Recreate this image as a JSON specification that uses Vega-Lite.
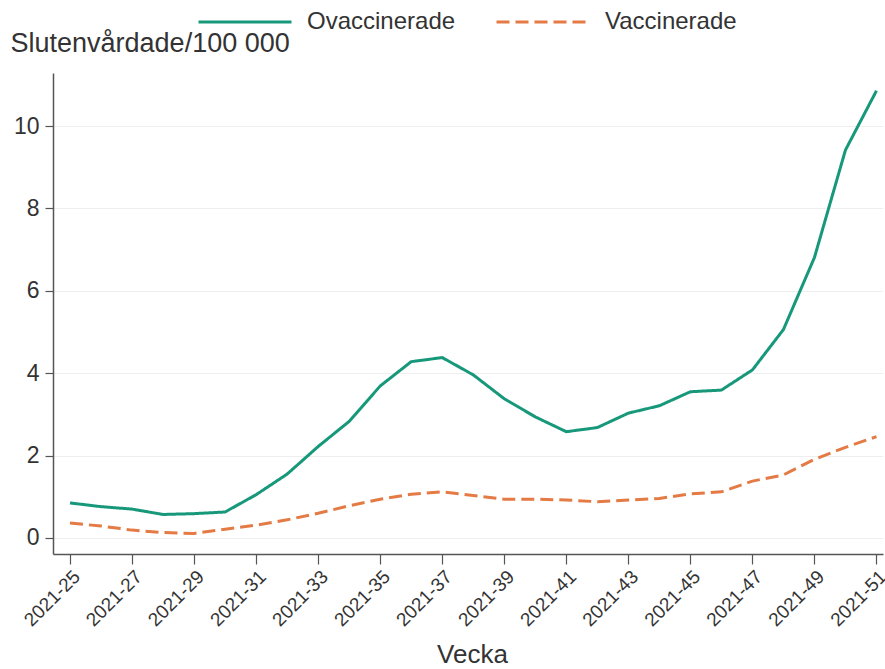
{
  "$schema": "https://vega.github.io/schema/vega-lite/v6.json",
  "autosize": "none",
  "padding": {"left": 53, "top": 73, "right": 2, "bottom": 115},
  "width": 830,
  "height": 481,
  "background": "white",
  "config": {
    "font": "Liberation Sans",
    "view": {"stroke": null},
    "axis": {"labelColor": "#333333", "titleColor": "#333333", "titleFontWeight": "normal", "domainColor": "#555555", "tickColor": "#555555", "domainWidth": 1.5, "tickWidth": 1.2}
  },
  "data": {
    "values": [
      {"vecka": 25, "grupp": "Ovaccinerade", "varde": 0.85},
      {"vecka": 26, "grupp": "Ovaccinerade", "varde": 0.76},
      {"vecka": 27, "grupp": "Ovaccinerade", "varde": 0.70},
      {"vecka": 28, "grupp": "Ovaccinerade", "varde": 0.57},
      {"vecka": 29, "grupp": "Ovaccinerade", "varde": 0.59},
      {"vecka": 30, "grupp": "Ovaccinerade", "varde": 0.63},
      {"vecka": 31, "grupp": "Ovaccinerade", "varde": 1.05},
      {"vecka": 32, "grupp": "Ovaccinerade", "varde": 1.55},
      {"vecka": 33, "grupp": "Ovaccinerade", "varde": 2.22},
      {"vecka": 34, "grupp": "Ovaccinerade", "varde": 2.83},
      {"vecka": 35, "grupp": "Ovaccinerade", "varde": 3.69},
      {"vecka": 36, "grupp": "Ovaccinerade", "varde": 4.28},
      {"vecka": 37, "grupp": "Ovaccinerade", "varde": 4.38},
      {"vecka": 38, "grupp": "Ovaccinerade", "varde": 3.96},
      {"vecka": 39, "grupp": "Ovaccinerade", "varde": 3.38},
      {"vecka": 40, "grupp": "Ovaccinerade", "varde": 2.94},
      {"vecka": 41, "grupp": "Ovaccinerade", "varde": 2.58},
      {"vecka": 42, "grupp": "Ovaccinerade", "varde": 2.68},
      {"vecka": 43, "grupp": "Ovaccinerade", "varde": 3.03},
      {"vecka": 44, "grupp": "Ovaccinerade", "varde": 3.21},
      {"vecka": 45, "grupp": "Ovaccinerade", "varde": 3.55},
      {"vecka": 46, "grupp": "Ovaccinerade", "varde": 3.59},
      {"vecka": 47, "grupp": "Ovaccinerade", "varde": 4.08},
      {"vecka": 48, "grupp": "Ovaccinerade", "varde": 5.06},
      {"vecka": 49, "grupp": "Ovaccinerade", "varde": 6.81},
      {"vecka": 50, "grupp": "Ovaccinerade", "varde": 9.42},
      {"vecka": 51, "grupp": "Ovaccinerade", "varde": 10.86},
      {"vecka": 25, "grupp": "Vaccinerade", "varde": 0.36},
      {"vecka": 26, "grupp": "Vaccinerade", "varde": 0.29},
      {"vecka": 27, "grupp": "Vaccinerade", "varde": 0.19},
      {"vecka": 28, "grupp": "Vaccinerade", "varde": 0.13},
      {"vecka": 29, "grupp": "Vaccinerade", "varde": 0.11},
      {"vecka": 30, "grupp": "Vaccinerade", "varde": 0.21},
      {"vecka": 31, "grupp": "Vaccinerade", "varde": 0.31},
      {"vecka": 32, "grupp": "Vaccinerade", "varde": 0.44},
      {"vecka": 33, "grupp": "Vaccinerade", "varde": 0.60},
      {"vecka": 34, "grupp": "Vaccinerade", "varde": 0.78},
      {"vecka": 35, "grupp": "Vaccinerade", "varde": 0.94},
      {"vecka": 36, "grupp": "Vaccinerade", "varde": 1.06},
      {"vecka": 37, "grupp": "Vaccinerade", "varde": 1.12},
      {"vecka": 38, "grupp": "Vaccinerade", "varde": 1.03},
      {"vecka": 39, "grupp": "Vaccinerade", "varde": 0.94},
      {"vecka": 40, "grupp": "Vaccinerade", "varde": 0.94},
      {"vecka": 41, "grupp": "Vaccinerade", "varde": 0.92},
      {"vecka": 42, "grupp": "Vaccinerade", "varde": 0.88},
      {"vecka": 43, "grupp": "Vaccinerade", "varde": 0.92},
      {"vecka": 44, "grupp": "Vaccinerade", "varde": 0.96},
      {"vecka": 45, "grupp": "Vaccinerade", "varde": 1.07},
      {"vecka": 46, "grupp": "Vaccinerade", "varde": 1.12},
      {"vecka": 47, "grupp": "Vaccinerade", "varde": 1.38},
      {"vecka": 48, "grupp": "Vaccinerade", "varde": 1.53},
      {"vecka": 49, "grupp": "Vaccinerade", "varde": 1.91},
      {"vecka": 50, "grupp": "Vaccinerade", "varde": 2.20},
      {"vecka": 51, "grupp": "Vaccinerade", "varde": 2.46}
    ]
  },
  "mark": {"type": "line", "strokeWidth": 3},
  "encoding": {
    "x": {
      "field": "vecka",
      "type": "quantitative",
      "scale": {"domain": [24.452, 51.21], "nice": false, "zero": false},
      "axis": {
        "values": [25, 27, 29, 31, 33, 35, 37, 39, 41, 43, 45, 47, 49, 51],
        "labelExpr": "'2021-' + datum.value",
        "labelAngle": -45,
        "labelFontSize": 19,
        "labelOverlap": false,
        "labelBound": false,
        "labelFlush": false,
        "labelPadding": 3,
        "labelDx": -6,
        "tickSize": 10,
        "grid": false,
        "title": "Vecka",
        "titleFontSize": 26,
        "titleBaseline": "alphabetic",
        "titleY": 108,
        "titleX": 419
      }
    },
    "y": {
      "field": "varde",
      "type": "quantitative",
      "scale": {"domain": [-0.39, 11.29], "nice": false, "zero": false},
      "axis": {
        "values": [0, 2, 4, 6, 8, 10],
        "labelFontSize": 23,
        "labelPadding": 6,
        "tickSize": 8,
        "grid": true,
        "gridColor": "#eeeeee",
        "gridWidth": 1,
        "title": "Slutenvårdade/100 000",
        "titleFontSize": 27,
        "titleAngle": 0,
        "titleAlign": "left",
        "titleBaseline": "alphabetic",
        "titleX": -43,
        "titleY": -22
      }
    },
    "color": {
      "field": "grupp",
      "type": "nominal",
      "scale": {"domain": ["Ovaccinerade", "Vaccinerade"], "range": ["#17987a", "#e47a44"]},
      "legend": {
        "title": null,
        "orient": "none",
        "direction": "horizontal",
        "legendX": 144,
        "legendY": -99,
        "symbolType": "stroke",
        "symbolSize": 8649,
        "symbolStrokeWidth": 3,
        "labelFontSize": 24,
        "labelColor": "#333333",
        "labelOffset": 14,
        "columnPadding": 34
      }
    },
    "strokeDash": {
      "field": "grupp",
      "type": "nominal",
      "scale": {"domain": ["Ovaccinerade", "Vaccinerade"], "range": [[1, 0], [13, 6]]},
      "legend": {
        "title": null,
        "orient": "none",
        "direction": "horizontal",
        "legendX": 144,
        "legendY": -99,
        "symbolType": "stroke",
        "symbolSize": 8649,
        "symbolStrokeWidth": 3,
        "labelFontSize": 24,
        "labelColor": "#333333",
        "labelOffset": 14,
        "columnPadding": 34
      }
    }
  }
}
